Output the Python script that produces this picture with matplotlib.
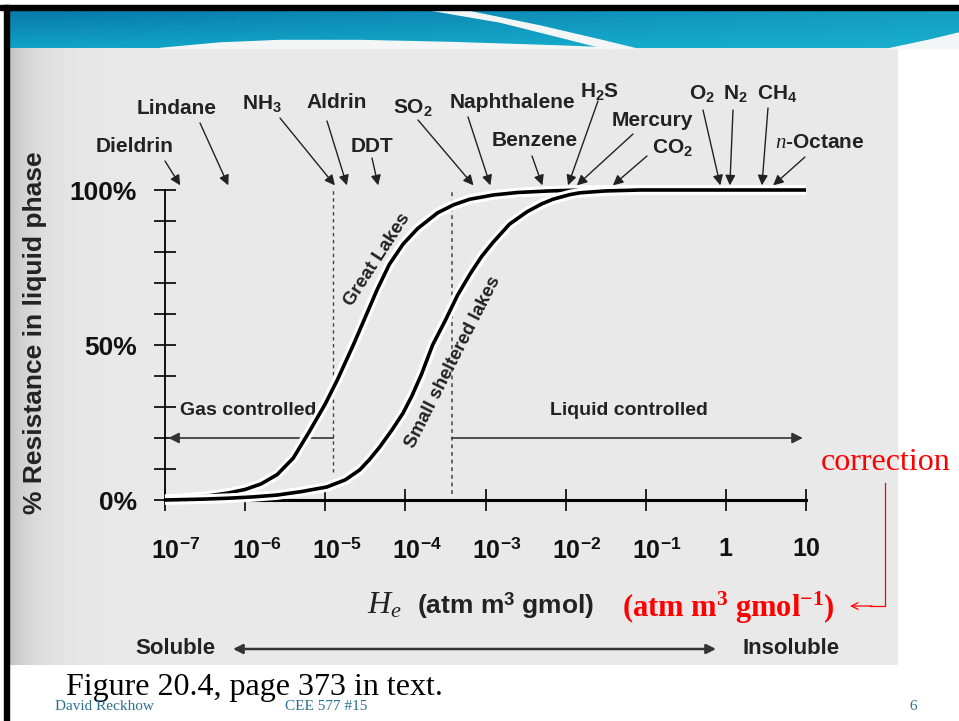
import numpy as np
import matplotlib
matplotlib.use("Agg")
import matplotlib.pyplot as plt
import matplotlib.transforms as mtransforms
from matplotlib.patches import Rectangle, Polygon
import matplotlib.patheffects as pe

plt.rcParams['font.family'] = ['Liberation Sans', 'DejaVu Sans']
plt.rcParams['mathtext.fontset'] = 'custom'
plt.rcParams['mathtext.rm'] = 'Liberation Sans:bold'
plt.rcParams['mathtext.it'] = 'Liberation Serif:italic'
plt.rcParams['mathtext.bf'] = 'Liberation Serif:bold'

# ---------------- data ----------------
# Great Lakes curve: log10(He) vs % resistance in liquid phase
great_logH = [-7.0, -6.8, -6.5, -6.2, -6.0, -5.8, -5.6, -5.4, -5.2, -5.0, -4.85,
              -4.65, -4.5, -4.35, -4.2, -4.03, -3.85, -3.6, -3.4, -3.2, -2.9,
              -2.6, -2.2, -1.8, 1.0]
great_pct = [0.3, 0.5, 1.2, 2.3, 3.4, 5.2, 8.2, 13.5, 22.0, 31.0, 38.7,
             50.0, 59.0, 68.0, 76.0, 82.5, 87.5, 92.6, 95.2, 97.0, 98.4,
             99.2, 99.7, 100.0, 100.0]
# Small sheltered lakes curve
small_logH = [-7.0, -6.5, -6.19, -5.9, -5.6, -5.3, -4.98, -4.75, -4.57, -4.45,
              -4.32, -4.17, -4.03, -3.92, -3.8, -3.66, -3.5, -3.35, -3.19, -3.05,
              -2.91, -2.7, -2.48, -2.3, -2.16, -1.95, -1.82, -1.5, -1.07, 1.0]
small_pct = [0.0, 0.3, 0.6, 1.0, 1.6, 2.7, 4.2, 6.5, 9.7, 13.0,
             17.1, 22.5, 28.0, 33.5, 40.5, 50.0, 58.0, 66.0, 73.0, 78.5,
             83.0, 89.0, 93.0, 95.5, 97.0, 98.5, 99.1, 99.7, 100.0, 100.0]

# compounds and their log10 Henry's constants (arrow positions)
compounds = ['Dieldrin', 'Lindane', 'NH$_3$', 'Aldrin', 'DDT', 'SO$_2$', 'Naphthalene',
             'Benzene', 'H$_2$S', 'Mercury', 'CO$_2$', 'O$_2$', 'N$_2$', 'CH$_4$',
             '$\\it{n}$-Octane']
compound_logH = [-6.81, -6.21, -4.88, -4.73, -4.34, -3.15, -2.94,
                 -2.29, -1.97, -1.86, -1.41, -0.07, 0.05, 0.45, 0.59]

# boundaries of gas / liquid controlled regions (log10 He)
gas_limit_logH = -4.90
liq_limit_logH = -3.42
arrow_level_pct = 20

xticks_logH = [-7, -6, -5, -4, -3, -2, -1, 0, 1]
xtick_labels = ['10$^{-7}$', '10$^{-6}$', '10$^{-5}$', '10$^{-4}$', '10$^{-3}$',
                '10$^{-2}$', '10$^{-1}$', '1', '10']
ytick_major = [0, 50, 100]
ytick_labels = ['0%', '50%', '100%']

# ---------------- layout (pixels) ----------------
W, H = 959, 721
label_pos = [(135, 147), (177, 108), (262, 103), (337, 103), (372, 146), (413, 108),
             (512, 103), (535, 141), (600, 92), (652, 120), (672, 147), (702, 94),
             (735, 94), (777, 94), (820, 143)]
arrow_start = [(165, 161), (200, 123), (280, 118), (327, 121), (372, 158), (418, 120),
               (468, 117), (532, 156), (598, 101), (633, 134), (647, 156), (703, 110),
               (733, 110), (768, 108), (805, 157)]

fig = plt.figure(figsize=(W / 100, H / 100), dpi=100)
bg = fig.add_axes([0, 0, 1, 1])
bg.set_xlim(0, W)
bg.set_ylim(H, 0)
bg.axis('off')
bg.set_zorder(0)

bg.add_patch(Rectangle((0, 0), W, H, color='white', zorder=0))
# banner gradient
by0, by1 = 10, 48
ny, nx = 40, 200
t = np.linspace(0, 1, ny)[:, None]
s = np.linspace(0, 1, nx)[None, :]
top = np.array([0.03, 0.47, 0.67])
bot = np.array([0.06, 0.64, 0.78])
right = np.array([0.12, 0.72, 0.82])
img = (top[None, None, :] * (1 - t[..., None]) + bot[None, None, :] * t[..., None])
img = img * (1 - 0.6 * s[..., None]) + right[None, None, :] * 0.6 * s[..., None]
bg.imshow(img, extent=(9, W, by1, by0), aspect='auto', zorder=1, interpolation='bilinear')
# white swooshes
bg.add_patch(Polygon([(160, 48.5), (220, 43), (280, 40.5), (360, 40.5), (450, 42.5), (560, 46), (620, 48.5)],
                     closed=True, color='#f4f6f6', zorder=2))
bg.add_patch(Polygon([(430, 10), (462, 10), (540, 26), (600, 40), (635, 48.5), (605, 48.5), (560, 37), (500, 22)],
                     closed=True, color='#f2f6f7', zorder=2))
bg.add_patch(Polygon([(890, 48.5), (930, 40), (959, 33), (959, 48.5)], closed=True,
                     color='#f2f6f7', zorder=2))
# grey figure area
gx = np.linspace(0, 1, 300)
shade = 0.915 - 0.15 * np.exp(-gx / 0.03)
gimg = np.repeat(shade[None, :], 10, axis=0)
bg.imshow(np.dstack([gimg, gimg, gimg]), extent=(9, 898, 665, 48), aspect='auto',
          zorder=1, vmin=0, vmax=1, interpolation='bilinear')
# black border
bg.add_patch(Rectangle((0, 5), W, 5, color='black', zorder=3))
bg.add_patch(Rectangle((4, 5), 5, H, color='black', zorder=3))

# ---------------- main axes ----------------
ax = fig.add_axes([165 / W, (H - 500) / H, (806 - 165) / W, 310 / H])
ax.set_zorder(2)
ax.patch.set_alpha(0)
ax.set_xscale('log')
ax.set_xlim(1e-7, 10)
ax.set_ylim(0, 100)
for sp in ['top', 'right']:
    ax.spines[sp].set_visible(False)
ax.spines['left'].set_linewidth(1.3)
ax.spines['bottom'].set_linewidth(2.2)
ax.set_xticks([10.0 ** v for v in xticks_logH])
ax.set_xticklabels(xtick_labels, fontsize=18, fontweight='bold')
ax.xaxis.set_minor_locator(matplotlib.ticker.NullLocator())
ax.set_yticks(ytick_major)
ax.set_yticklabels(ytick_labels, fontsize=19, fontweight='bold')
ax.set_yticks(np.arange(0, 101, 10), minor=True)
ax.tick_params(axis='x', direction='inout', length=16, width=1.3, pad=19, colors='#111111')
ax.tick_params(axis='y', which='both', direction='inout', length=16, width=1.3, pad=12, colors='#111111')
for lab, txt in zip(ax.get_xticklabels(), xtick_labels):
    if '^' in txt:
        off = mtransforms.ScaledTranslation(8 / 72, 0, fig.dpi_scale_trans)
        lab.set_transform(lab.get_transform() + off)

halo = [pe.Stroke(linewidth=7, foreground='white'), pe.Normal()]
ax.plot([10.0 ** v for v in great_logH], great_pct, color='black', lw=2.6,
        solid_capstyle='butt', solid_joinstyle='round', path_effects=halo, clip_on=False, zorder=4)
ax.plot([10.0 ** v for v in small_logH], small_pct, color='black', lw=2.6,
        solid_capstyle='butt', solid_joinstyle='round', path_effects=halo, clip_on=False, zorder=4)

# dotted boundaries
ax.plot([10 ** gas_limit_logH] * 2, [9, 100], ls=(0, (2.5, 2.5)), color='#444444', lw=1, zorder=2)
ax.plot([10 ** liq_limit_logH] * 2, [2, 100], ls=(0, (2.5, 2.5)), color='#444444', lw=1.1, zorder=2)

# controlled arrows
ax.annotate('', xy=(1.1e-7, arrow_level_pct), xytext=(10 ** gas_limit_logH, arrow_level_pct),
            arrowprops=dict(arrowstyle='-|>', color='#333333', lw=1.2, mutation_scale=16,
                            shrinkA=0, shrinkB=0))
ax.annotate('', xy=(10 ** 0.96, arrow_level_pct), xytext=(10 ** liq_limit_logH, arrow_level_pct),
            arrowprops=dict(arrowstyle='-|>', color='#333333', lw=1.2, mutation_scale=16,
                            shrinkA=0, shrinkB=0))
ax.text(10 ** -6.81, 29, 'Gas controlled', fontsize=14, fontweight='bold', ha='left',
        va='center', color='#222222')
ax.text(10 ** -1.21, 29, 'Liquid controlled', fontsize=14, fontweight='bold', ha='center',
        va='center', color='#222222')

# lake labels
ax.text(10 ** -4.35, (500 - 260) / 3.1, 'Great Lakes', rotation=57, fontsize=13.5,
        fontweight='bold', ha='center', va='center', color='#222222', rotation_mode='anchor')
ax.text(10 ** -3.40, (500 - 362) / 3.1, 'Small sheltered lakes', rotation=63, fontsize=13.5,
        fontweight='bold', ha='center', va='center', color='#222222', rotation_mode='anchor')

# compound labels and arrows
for name, lh, (lx, ly), (sx, sy) in zip(compounds, compound_logH, label_pos, arrow_start):
    bg.text(lx, ly, name, fontsize=15, fontweight='bold', ha='center', va='center',
            color='#222222', zorder=5)
    ax.annotate('', xy=(10 ** lh, 101.5), xycoords='data', xytext=(sx, sy),
                textcoords=bg.transData,
                arrowprops=dict(arrowstyle='-|>', color='#222222', lw=1.0,
                                mutation_scale=15, shrinkA=0, shrinkB=0),
                annotation_clip=False, zorder=5)

# axis titles
bg.text(35, 333, '% Resistance in liquid phase', rotation=90, fontsize=19, fontweight='bold',
        ha='center', va='center', color='#222222', zorder=5)
bg.text(384, 606, '$\\it{H}_{\\it{e}}$', fontsize=23, ha='center', va='center',
        color='#222222', zorder=5)
bg.text(506, 606, '(atm m$^{3}$ gmol)', fontsize=19, fontweight='bold', ha='center',
        va='center', color='#222222', zorder=5)
bg.text(728, 608, '(atm m$^{\\mathbf{3}}$ gmol$^{\\mathbf{-1}}$)', fontsize=22,
        fontweight='bold', family='Liberation Serif', color='red', ha='center',
        va='center', zorder=5)
bg.text(886, 462, 'correction', fontsize=23, family='Liberation Serif', color='red',
        ha='center', va='center', zorder=5)
bg.plot([885, 885, 870], [483, 606, 606], color='red', lw=0.9, zorder=5)
bg.annotate('', xy=(850, 606), xytext=(872, 606),
            arrowprops=dict(arrowstyle='->', color='red', lw=0.9, mutation_scale=12,
                            shrinkA=0, shrinkB=0), zorder=5)

# soluble / insoluble
bg.text(175, 648, 'Soluble', fontsize=16, fontweight='bold', ha='center', va='center',
        color='#222222', zorder=5)
bg.text(791, 648, 'Insoluble', fontsize=16, fontweight='bold', ha='center', va='center',
        color='#222222', zorder=5)
bg.annotate('', xy=(233, 649), xytext=(716, 649),
            arrowprops=dict(arrowstyle='<|-|>', color='#333333', lw=1.8, mutation_scale=14,
                            shrinkA=0, shrinkB=0), zorder=5)

# footer
bg.text(66, 688, 'Figure 20.4, page 373 in text.', fontsize=23, family='Liberation Serif',
        ha='left', va='center', color='black', zorder=5)
bg.text(55, 707, 'David Reckhow', fontsize=11, family='Liberation Serif', color='#2a7090',
        ha='left', va='center', zorder=6)
bg.text(285, 707, 'CEE 577 #15', fontsize=11, family='Liberation Serif', color='#2a7090',
        ha='left', va='center', zorder=6)
bg.text(913, 706, '6', fontsize=11, family='Liberation Serif', color='#2a7090',
        ha='center', va='center', zorder=6)

fig.savefig('out.png', dpi=100)
